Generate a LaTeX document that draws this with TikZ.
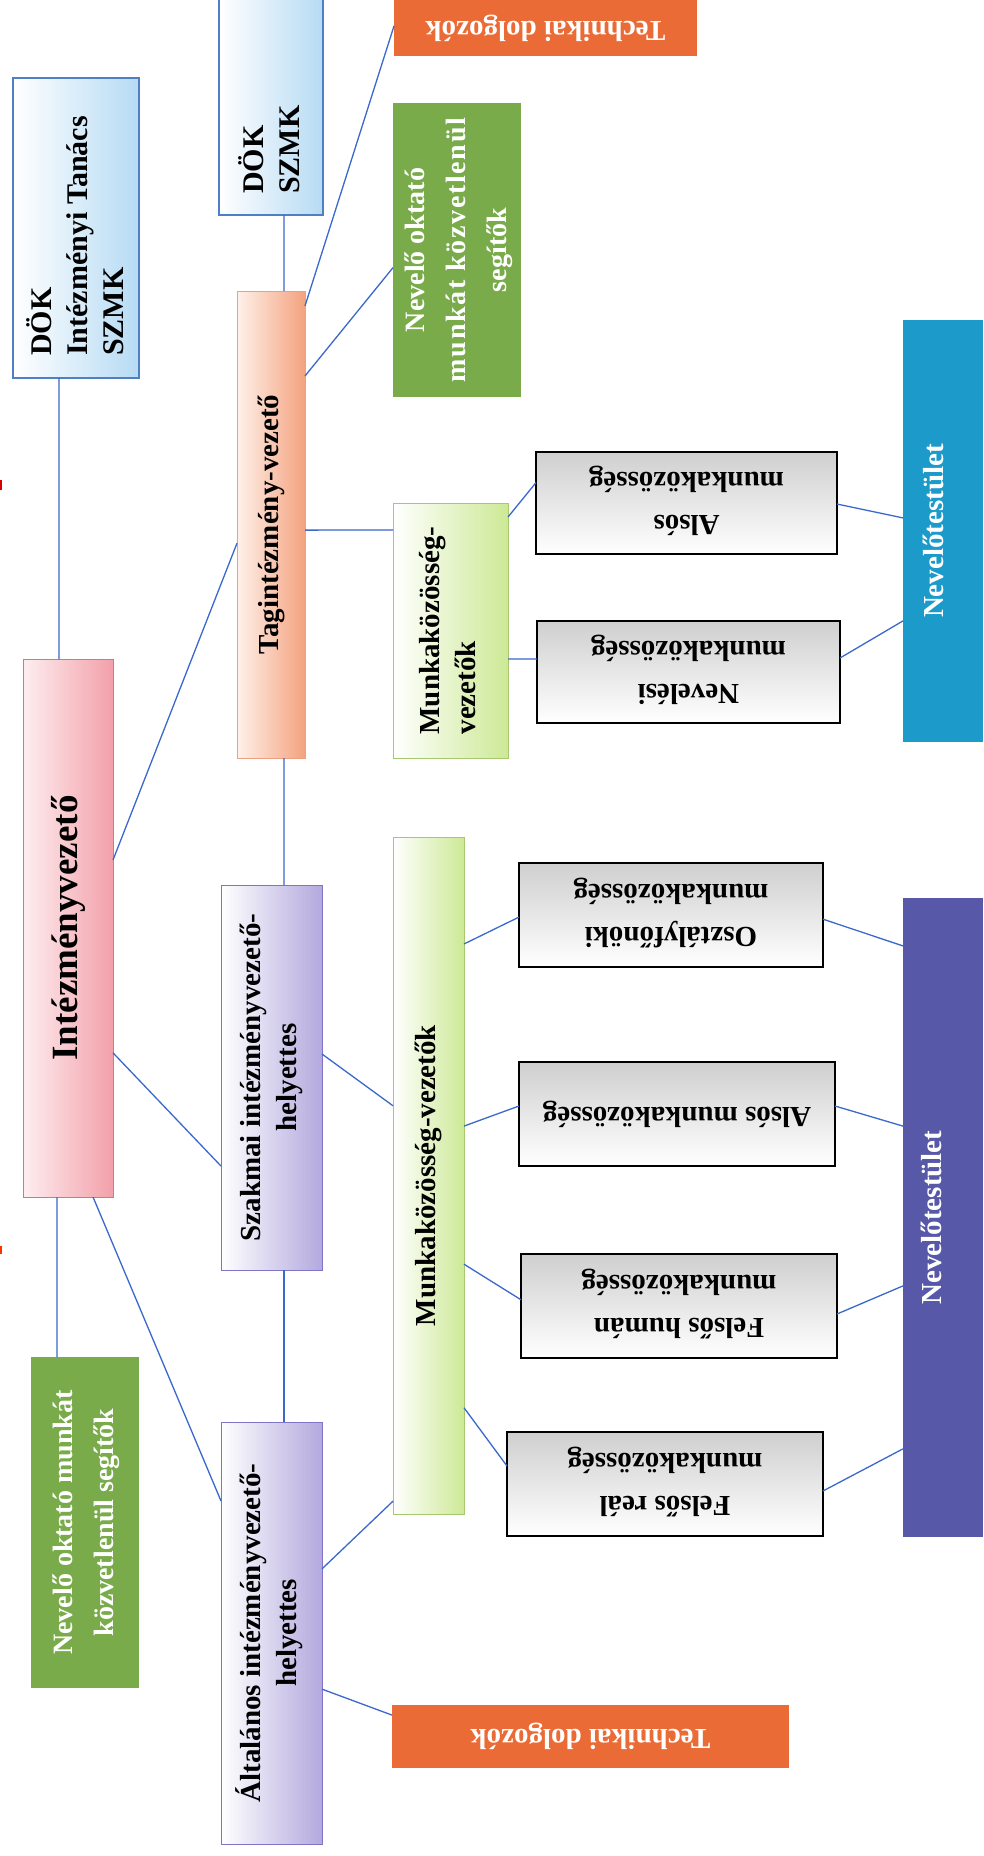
\documentclass[tikz,border=0pt]{standalone}
\usepackage{fontspec}
\setmainfont{Liberation Serif}
\usetikzlibrary{calc}
\definecolor{connblue}{HTML}{3A68CC}
\definecolor{dokblue}{HTML}{4F7FC4}
\definecolor{doklight}{HTML}{B6DBF4}
\definecolor{intzborder}{HTML}{E0707C}
\definecolor{intzlight}{HTML}{FDEEF0}
\definecolor{intzdark}{HTML}{F3A0AA}
\definecolor{tagiborder}{HTML}{EFA080}
\definecolor{tagilight}{HTML}{FEF1EA}
\definecolor{tagidark}{HTML}{F4A27F}
\definecolor{lavborder}{HTML}{7F74C6}
\definecolor{lavdark}{HTML}{B3A9DE}
\definecolor{mkvborder}{HTML}{A8C870}
\definecolor{mkvdark}{HTML}{CDE996}
\definecolor{grn}{HTML}{79AB4A}
\definecolor{tech}{HTML}{EB6B36}
\definecolor{wgray}{HTML}{CFCFCF}
\definecolor{cyanbox}{HTML}{1C9BCB}
\definecolor{purplebox}{HTML}{5858A8}
\newcommand\fmain{\fontsize{29}{36}\selectfont\bfseries}
\newcommand\fbig{\fontsize{37}{44}\selectfont\bfseries}
\newcommand\fwb{\fontsize{29}{43}\selectfont\bfseries}
\newcommand\fgreen{\fontsize{28}{41}\selectfont\bfseries}
\newcommand\fdok{\fontsize{30}{36}\selectfont\bfseries}
\tikzset{
  bx/.style={inner sep=0pt, outer sep=0pt, anchor=north west},
  dokbox/.style={bx, draw=dokblue, line width=1.2pt, left color=white, right color=doklight},
  intzbox/.style={bx, draw=intzborder, line width=1pt, left color=intzlight, right color=intzdark, font=\fbig},
  tagibox/.style={bx, draw=tagiborder, line width=0.8pt, left color=tagilight, right color=tagidark, font=\fmain},
  lavbox/.style={bx, draw=lavborder, line width=1pt, left color=white, right color=lavdark, font=\fmain},
  mkvbox/.style={bx, draw=mkvborder, line width=0.8pt, left color=white, right color=mkvdark, font=\fmain},
  greenbox/.style={bx, fill=grn, text=white, font=\fgreen},
  techbox/.style={bx, fill=tech, text=white, font=\fmain},
  wbox/.style={bx, draw=black, line width=1.6pt, top color=wgray, middle color=white!95!black, bottom color=white, font=\fwb},
  nevbox/.style={bx},
  nevtext/.style={inner sep=0pt, text=white, font=\fmain, rotate=90},
  doktext/.style={rotate=90, anchor=north west, inner sep=0pt, font=\fdok, align=left},
  conn/.style={draw=connblue, line width=1.3pt},
}
\begin{document}
\begin{tikzpicture}[x=1pt,y=-1pt]
\useasboundingbox[fill=white] (0,0) rectangle (983,1856);
% tiny marks at the left edge
\fill[red!85!black] (0,480) rectangle (1.5,490);
\fill[red!60!orange] (0,1246) rectangle (1.5,1254);
% boxes
\node[dokbox, minimum width=126, minimum height=300] (dokA) at (13,78) {};
\node[doktext] (dokAt) at (26,356) {DÖK\\Intézményi Tanács\\SZMK};
\node[dokbox, minimum width=104, minimum height=222] (dokB) at (219,-7) {};
\node[doktext] (dokBt) at (238,194) {DÖK\\SZMK};
\node[techbox, minimum width=303, minimum height=56] (techA) at (394,0) {\rotatebox{180}{Technikai dolgozók}};
\node[greenbox, minimum width=128, minimum height=294] (greenA) at (393,103)
  {\rotatebox{90}{\begin{tabular}{@{}c@{}}Nevelő oktató\\{\addfontfeatures{LetterSpace=6}munkát közvetlenül}\\segítők\end{tabular}}};
\node[tagibox, minimum width=68, minimum height=467] (tagi) at (237,291) {\rotatebox{90}{Tagintézmény-vezető}};
\node[mkvbox, minimum width=115, minimum height=255] (mkvA) at (393,503)
  {\rotatebox{90}{\begin{tabular}{@{}l@{}}Munkaközösség-\\vezetők\end{tabular}}};
\node[wbox, minimum width=301, minimum height=102] (alsA) at (536,452)
  {\rotatebox{180}{\begin{tabular}{@{}c@{}}Alsós\\munkaközösség\end{tabular}}};
\node[wbox, minimum width=303, minimum height=102] (nevA) at (537,621)
  {\rotatebox{180}{\begin{tabular}{@{}c@{}}Nevelési\\munkaközösség\end{tabular}}};
\node[nevbox, fill=cyanbox, minimum width=80, minimum height=422] (cyan) at (903,320) {};
\node[nevtext] (cyant) at ($(cyan.center)+(-10,0)$) {Nevelőtestület};
\node[intzbox, minimum width=90, minimum height=538] (intz) at (23,659) {\rotatebox{90}{Intézményvezető}};
\node[lavbox, minimum width=101, minimum height=385] (szak) at (221,885)
  {\rotatebox{90}{\begin{tabular}{@{}c@{}}Szakmai intézményvezető-\\helyettes\end{tabular}}};
\node[mkvbox, minimum width=71, minimum height=677] (mkvB) at (393,837) {\rotatebox{90}{Munkaközösség-vezetők}};
\node[wbox, minimum width=304, minimum height=104] (oszt) at (519,863)
  {\rotatebox{180}{\begin{tabular}{@{}c@{}}Osztályfőnöki\\munkaközösség\end{tabular}}};
\node[wbox, minimum width=316, minimum height=104] (alsB) at (519,1062)
  {\rotatebox{180}{Alsós munkaközösség}};
\node[nevbox, fill=purplebox, minimum width=80, minimum height=639] (purple) at (903,898) {};
\node[nevtext] (purplet) at ($(purple.center)+(-12,0)$) {Nevelőtestület};
\node[wbox, minimum width=316, minimum height=104] (felH) at (521,1254)
  {\rotatebox{180}{\begin{tabular}{@{}c@{}}Felsős humán\\munkaközösség\end{tabular}}};
\node[wbox, minimum width=316, minimum height=104] (felR) at (507,1432)
  {\rotatebox{180}{\begin{tabular}{@{}c@{}}Felsős reál\\munkaközösség\end{tabular}}};
\node[greenbox, minimum width=108, minimum height=331] (greenB) at (31,1357)
  {\rotatebox{90}{\begin{tabular}{@{}c@{}}Nevelő oktató munkát\\közvetlenül segítők\end{tabular}}};
\node[lavbox, minimum width=101, minimum height=422] (alt) at (221,1422)
  {\rotatebox{90}{\begin{tabular}{@{}c@{}}Általános intézményvezető-\\helyettes\end{tabular}}};
\node[techbox, minimum width=397, minimum height=63] (techB) at (392,1705) {\rotatebox{180}{Technikai dolgozók}};
% connectors
\draw[conn] ($(dokA.south west)!0.365!(dokA.south east)$) -- ($(intz.north west)!0.4!(intz.north east)$);
\draw[conn] ($(intz.north east)!0.3736!(intz.south east)$) -- ($(tagi.north west)!0.54!(tagi.south west)$);
\draw[conn] ($(intz.north east)!0.732!(intz.south east)$) -- ($(szak.north west)!0.73!(szak.south west)$);
\draw[conn] ($(intz.south west)!0.778!(intz.south east)$) -- ($(alt.north west)!0.187!(alt.south west)$);
\draw[conn] ($(intz.south west)!0.378!(intz.south east)$) -- ($(greenB.north west)!0.24!(greenB.north east)$);
\draw[conn] ($(tagi.north west)!0.69!(tagi.north east)$) -- ($(dokB.south west)!0.625!(dokB.south east)$);
\draw[conn] ($(tagi.north east)!0.032!(tagi.south east)$) -- ($(techA.north west)!0.464!(techA.south west)$);
\draw[conn] ($(tagi.north east)!0.182!(tagi.south east)$) -- ($(greenA.north west)!0.56!(greenA.south west)$);
\draw[conn] ($(tagi.north east)!0.512!(tagi.south east)$) -- ($(mkvA.north west)!0.106!(mkvA.south west)$);
\draw[conn] ($(tagi.south west)!0.69!(tagi.south east)$) -- ($(szak.north west)!0.624!(szak.north east)$);
\draw[conn] ($(szak.south west)!0.624!(szak.south east)$) -- ($(alt.north west)!0.624!(alt.north east)$);
\draw[conn] ($(szak.north east)!0.439!(szak.south east)$) -- ($(mkvB.north west)!0.397!(mkvB.south west)$);
\draw[conn] ($(alt.north east)!0.348!(alt.south east)$) -- ($(mkvB.north west)!0.981!(mkvB.south west)$);
\draw[conn] ($(alt.north east)!0.633!(alt.south east)$) -- ($(techB.north west)!0.16!(techB.south west)$);
\draw[conn] ($(mkvA.north east)!0.055!(mkvA.south east)$) -- ($(alsA.north west)!0.30!(alsA.south west)$);
\draw[conn] ($(mkvA.north east)!0.612!(mkvA.south east)$) -- ($(nevA.north west)!0.373!(nevA.south west)$);
\draw[conn] ($(alsA.north east)!0.51!(alsA.south east)$) -- ($(cyan.north west)!0.469!(cyan.south west)$);
\draw[conn] ($(nevA.north east)!0.363!(nevA.south east)$) -- ($(cyan.north west)!0.713!(cyan.south west)$);
\draw[conn] ($(mkvB.north east)!0.158!(mkvB.south east)$) -- ($(oszt.north west)!0.52!(oszt.south west)$);
\draw[conn] ($(oszt.north east)!0.54!(oszt.south east)$) -- ($(purple.north west)!0.075!(purple.south west)$);
\draw[conn] ($(mkvB.north east)!0.427!(mkvB.south east)$) -- ($(alsB.north west)!0.423!(alsB.south west)$);
\draw[conn] ($(alsB.north east)!0.423!(alsB.south east)$) -- ($(purple.north west)!0.357!(purple.south west)$);
\draw[conn] ($(mkvB.north east)!0.631!(mkvB.south east)$) -- ($(felH.north west)!0.44!(felH.south west)$);
\draw[conn] ($(felH.north east)!0.577!(felH.south east)$) -- ($(purple.north west)!0.607!(purple.south west)$);
\draw[conn] ($(mkvB.north east)!0.843!(mkvB.south east)$) -- ($(felR.north west)!0.327!(felR.south west)$);
\draw[conn] ($(felR.north east)!0.567!(felR.south east)$) -- ($(purple.north west)!0.862!(purple.south west)$);
\end{tikzpicture}
\end{document}
